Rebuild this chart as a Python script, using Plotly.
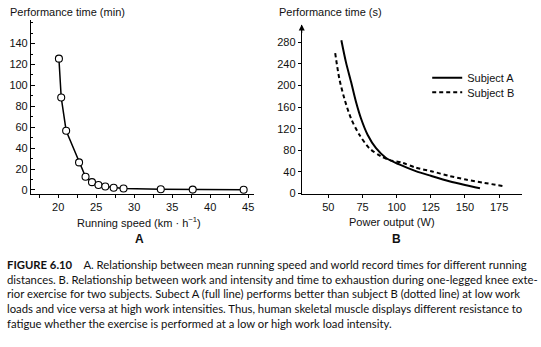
import plotly.graph_objects as go

W, H = 541, 347

# Panel A data: running speed (km/h) vs world-record performance time (min)
speed = [20.1, 20.4, 21.05, 22.75, 23.6, 24.45, 25.3, 26.2, 27.3, 28.6, 33.5, 37.7, 44.4]
time_min = [125.6, 88.5, 56.7, 26.4, 12.6, 7.5, 4.8, 3.3, 2.2, 1.4, 0.7, 0.35, 0.2]

# Panel B data: power output (W) vs performance time (s)
power_a = [59.5, 62.9, 66.6, 70.2, 73.9, 78.7, 84.9, 92.2, 101.9, 114, 125, 138.5, 150, 161]
time_a = [284, 243, 207, 170, 139, 109, 84, 66, 54, 41.6, 33, 23, 16, 10]
power_b = [55, 58, 61.7, 66.6, 72.7, 80, 88.5, 95, 104.3, 114, 126, 138, 150.6, 164, 177.5]
time_b = [260, 213, 176, 139, 109, 84, 69, 62, 57, 48, 41, 33, 26, 20, 14]

xticks_a = [20, 25, 30, 35, 40, 45]
yticks_a = [0, 20, 40, 60, 80, 100, 120, 140]
xticks_b = [50, 75, 100, 125, 150, 175]
yticks_b = [0, 40, 80, 120, 160, 200, 240, 280]

AX_FONT = dict(family="Liberation Sans, Arial, sans-serif", size=11, color="#111")

fig = go.Figure()
fig.add_trace(go.Scatter(
    x=speed, y=time_min, mode="lines+markers", xaxis="x", yaxis="y",
    line=dict(color="black", width=1.5),
    marker=dict(symbol="circle", size=7, color="white", line=dict(color="black", width=1.1)),
    showlegend=False))
fig.add_trace(go.Scatter(
    x=power_a, y=time_a, mode="lines", xaxis="x2", yaxis="y2", name="Subject A",
    legend="legend",
    line=dict(color="black", width=2, shape="spline", smoothing=0.8)))
fig.add_trace(go.Scatter(
    x=power_b, y=time_b, mode="lines", xaxis="x2", yaxis="y2", name="Subject B",
    legend="legend2",
    line=dict(color="black", width=2, shape="spline", smoothing=0.8, dash="4px,3px")))

def px_x(p):
    return p / W

def px_y(p):
    return 1 - p / H

common = dict(showgrid=False, zeroline=False, showline=True, linecolor="black", linewidth=1,
              tickfont=AX_FONT, tickcolor="black", tickwidth=1)

LEG_FONT = dict(family="Liberation Sans, Arial, sans-serif", size=11, color="#111")

fig.update_layout(
    width=W, height=H, margin=dict(l=0, r=0, t=0, b=0),
    paper_bgcolor="white", plot_bgcolor="white",
    font=AX_FONT,
    xaxis=dict(domain=[px_x(31), px_x(254)], range=[16.42, 45.7], anchor="y",
               tickvals=xticks_a, ticks="outside", ticklen=3,
               minor=dict(dtick=2.5, tick0=0, ticks="outside", ticklen=3, tickcolor="black"),
               **common),
    yaxis=dict(domain=[px_y(197.7), px_y(20)], range=[-4.1, 162.9], anchor="x",
               tickvals=yticks_a, ticks="inside", ticklen=4,
               minor=dict(dtick=10, tick0=0, ticks="inside", ticklen=2.5, tickcolor="black"),
               **common),
    xaxis2=dict(domain=[px_x(302.3), px_x(523)], range=[30.5, 191.8], anchor="y2",
                tickvals=xticks_b, ticks="outside", ticklen=3, **common),
    yaxis2=dict(domain=[px_y(197), px_y(25)], range=[0, 313], anchor="x2",
                tickvals=yticks_b, ticks="outside", ticklen=3, **common),
    legend=dict(x=px_x(428), y=px_y(79), xanchor="left", yanchor="middle",
                font=LEG_FONT, bgcolor="rgba(0,0,0,0)", itemwidth=30),
    legend2=dict(x=px_x(428), y=px_y(94), xanchor="left", yanchor="middle",
                 font=LEG_FONT, bgcolor="rgba(0,0,0,0)", itemwidth=30),
)

ann = []
# axis titles
ann.append(dict(text="Performance time (min)", xref="paper", yref="paper", x=px_x(8), y=px_y(12),
                xanchor="left", yanchor="middle", showarrow=False, font=AX_FONT))
ann.append(dict(text="Performance time (s)", xref="paper", yref="paper", x=px_x(278), y=px_y(12),
                xanchor="left", yanchor="middle", showarrow=False, font=AX_FONT))
ann.append(dict(text="Running speed (km · h<sup>−1</sup>)", xref="paper", yref="paper",
                x=px_x(139), y=px_y(226), xanchor="center", yanchor="middle", showarrow=False,
                font=AX_FONT))
ann.append(dict(text="Power output (W)", xref="paper", yref="paper",
                x=px_x(393), y=px_y(226), xanchor="center", yanchor="middle", showarrow=False,
                font=AX_FONT))
ann.append(dict(text="<b>A</b>", xref="paper", yref="paper", x=px_x(140), y=px_y(243),
                xanchor="center", yanchor="middle", showarrow=False,
                font=dict(family="Liberation Sans, Arial, sans-serif", size=12, color="#111")))
ann.append(dict(text="<b>B</b>", xref="paper", yref="paper", x=px_x(397), y=px_y(243),
                xanchor="center", yanchor="middle", showarrow=False,
                font=dict(family="Liberation Sans, Arial, sans-serif", size=12, color="#111")))
# arrow at top of right y axis
ann.append(dict(x=30.5, y=313, xref="x2", yref="y2", ax=0, ay=10, axref="pixel", ayref="pixel",
                showarrow=True, arrowhead=2, arrowsize=1.2, arrowwidth=1, arrowcolor="black", text=""))

caption = ("<b>FIGURE 6.10</b>\u00a0\u00a0\u00a0 A. Relationship between mean running speed and world record times for different running<br>"
           "distances. B. Relationship between work and intensity and time to exhaustion during one-legged knee exte-<br>"
           "rior exercise for two subjects. Subect A (full line) performs better than subject B (dotted line) at low work<br>"
           "loads and vice versa at high work intensities. Thus, human skeletal muscle displays different resistance to<br>"
           "fatigue whether the exercise is performed at a low or high work load intensity.")
ann.append(dict(text=caption, xref="paper", yref="paper", x=px_x(5), y=px_y(299.5),
                xanchor="left", yanchor="middle", align="left", showarrow=False,
                font=dict(family="Lato, Open Sans, sans-serif", size=11.3, color="#111")))
fig.update_layout(annotations=ann)

fig.write_html("out.html")
